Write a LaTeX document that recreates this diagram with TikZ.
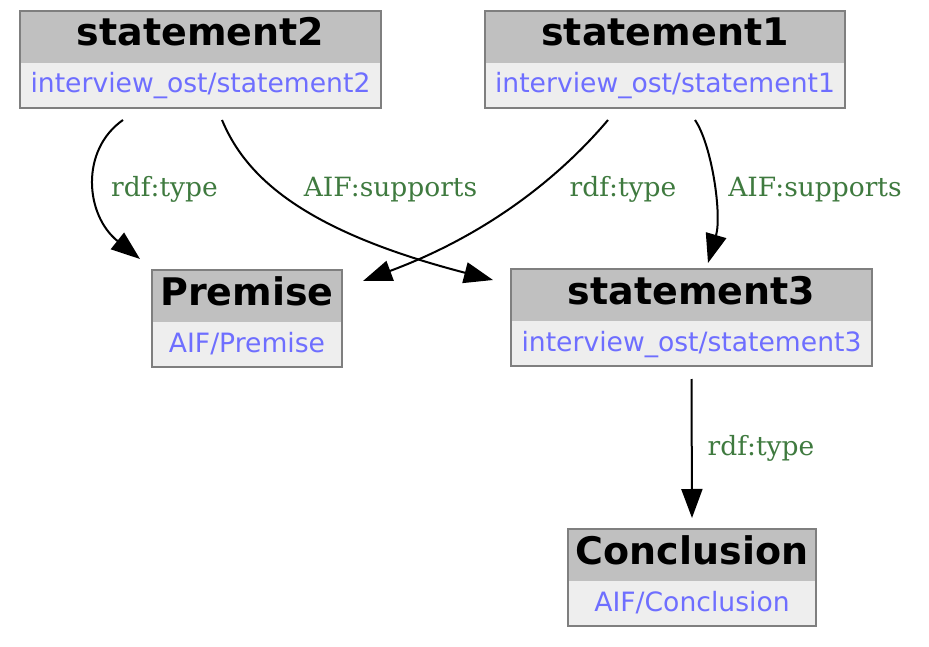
\documentclass[tikz,border=0pt]{standalone}
\usepackage{fontspec}
\setmainfont{DejaVu Serif}
\newfontfamily\headfont{DejaVu Sans}
\usepackage{tikz}
\usetikzlibrary{arrows.meta, positioning, shapes.multipart}

\definecolor{headgray}{HTML}{C0C0C0}
\definecolor{bodygray}{HTML}{EEEEEE}
\definecolor{boxline}{HTML}{7F7F7F}
\definecolor{urlblue}{HTML}{6E6EFF}
\definecolor{lblgreen}{HTML}{3F7A3F}

\newcommand{\restitle}[1]{{\headfont\bfseries\fontsize{38}{40}\selectfont #1}\rule[-16pt]{0pt}{50pt}}
\newcommand{\resuri}[1]{{\headfont\fontsize{26.6}{30}\selectfont\color{urlblue}#1}\rule[-14pt]{0pt}{43pt}}

\tikzset{
  res/.style={rectangle split, rectangle split parts=2,
    rectangle split part fill={headgray,bodygray},
    rectangle split draw splits=false,
    draw=boxline, line width=2pt, inner xsep=0pt, inner ysep=0pt, anchor=north},
  link/.style={line width=2pt, -{Triangle[length=29pt,width=21pt]}},
  lbl/.style={text=lblgreen, anchor=base, font=\fontsize{26.5}{28}\selectfont},
}

\begin{document}
\begin{tikzpicture}[x=1pt, y=-1pt]
\useasboundingbox (0,0) rectangle (929,647);

% resources
\node[res, minimum width=361pt] (stmt2) at (200.5,10) {\restitle{statement2}\nodepart{two}\resuri{interview\_ost/statement2}};
\node[res, minimum width=360pt] (stmt1) at (665,10) {\restitle{statement1}\nodepart{two}\resuri{interview\_ost/statement1}};
\node[res, minimum width=190pt] (prem) at (247,269) {\restitle{Premise}\nodepart{two}\resuri{AIF/Premise}};
\node[res, minimum width=361pt] (stmt3) at (691.5,268) {\restitle{statement3}\nodepart{two}\resuri{interview\_ost/statement3}};
\node[res, minimum width=248pt] (concl) at (692,528) {\restitle{Conclusion}\nodepart{two}\resuri{AIF/Conclusion}};

% properties
\draw[link] ([xshift=104pt,yshift=-11pt]stmt2.south west) .. controls (80,150) and (85,215) .. ([xshift=-11pt,yshift=10pt]prem.north west);
\draw[link] ([xshift=203pt,yshift=-11pt]stmt2.south west) .. controls (245,175) and (300,230) .. ([xshift=-17pt,yshift=-12pt]stmt3.north west);
\draw[link] ([xshift=124pt,yshift=-11pt]stmt1.south west) .. controls (570,165) and (500,230) .. ([xshift=20pt,yshift=-12pt]prem.north east);
\draw[link] ([xshift=211pt,yshift=-11pt]stmt1.south west) .. controls (712,145) and (722,215) .. ([xshift=198pt,yshift=5pt]stmt3.north west);
\draw[link] ([yshift=-12pt]stmt3.south) -- ([yshift=10pt]concl.north);

\node[lbl] (l1) at (164.5,197) {rdf:type};
\node[lbl] (l2) at (390.5,197) {AIF:supports};
\node[lbl] (l3) at (623,197) {rdf:type};
\node[lbl] (l4) at (815,197) {AIF:supports};
\node[lbl] (l5) at (761,455) {rdf:type};
\end{tikzpicture}
\end{document}
